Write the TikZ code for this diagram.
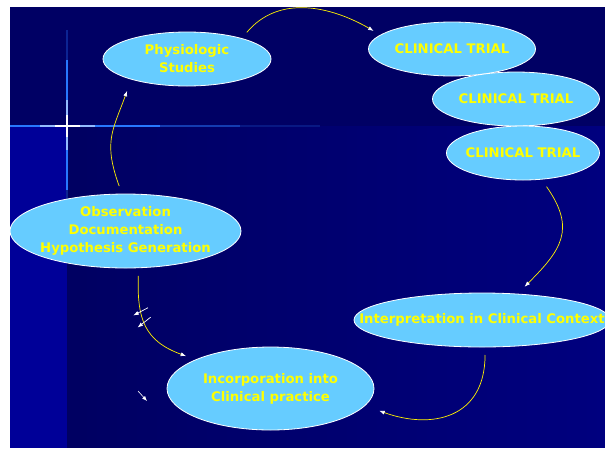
\documentclass[tikz,border=0pt]{standalone}
\usepackage{fontspec}
\setmainfont{DejaVu Sans}
\usetikzlibrary{shapes.geometric,arrows.meta,decorations.markings,positioning}
\tikzset{>=latex}
\definecolor{skyfill}{RGB}{102,204,255}
\definecolor{topnavy}{RGB}{0,0,100}
\definecolor{lownavy}{RGB}{0,0,98}
\definecolor{lowblue}{RGB}{0,0,152}
\definecolor{glowblue}{RGB}{40,120,255}
\definecolor{textyellow}{RGB}{255,255,0}
\tikzset{
	bubble/.style={ellipse, draw=white, line width=0.8pt, fill=skyfill, inner sep=0pt, outer sep=8pt},
	lbl/.style={text=textyellow, font=\fontsize{13.2}{18}\selectfont\bfseries, align=center, inner sep=0pt},
	flow/.style={draw=yellow, line width=0.7pt, -{Latex[color=white,length=5.5pt,width=4pt]}},
	breakmarks/.style={postaction={decorate}, decoration={markings,
		mark=at position 0.35 with {\draw[white, line width=0.7pt] (105:8.3pt) -- (285:8.3pt);},
		mark=at position 0.46 with {\draw[white, line width=0.7pt] (105:8.3pt) -- (285:8.3pt);}}}
}

\begin{document}
\begin{tikzpicture}[x=1pt,y=1pt]
		\useasboundingbox (0,0) rectangle (605,-448);
		\fill[white] (0,0) rectangle (605,-448);
		\fill[topnavy] (10,-7) rectangle (605,-126);
		\fill[lowblue] (10,-126) rectangle (67,-448);
		\foreach \i in {0,...,53}
			\fill[lowblue!\i!lownavy] ({67+\i*10},-126) rectangle ({77.5+\i*10},-448);
		\foreach \a/\b/\c in {10/40/glowblue, 40/55/glowblue!50!white, 55/80/white, 80/95/glowblue!50!white, 95/160/glowblue, 160/240/glowblue!50!topnavy, 240/320/glowblue!20!topnavy}
			\draw[\c, line width=1.6pt] (\a,-126) -- (\b,-126);
		\foreach \a/\b/\c in {30/60/glowblue!30!topnavy, 60/100/glowblue, 100/115/glowblue!50!white, 115/137/white, 137/150/glowblue!50!white, 150/190/glowblue, 190/215/glowblue!30!lownavy}
			\draw[\c, line width=1.6pt] (67,-\a) -- (67,-\b);

		\node[bubble, minimum width=168pt, minimum height=54pt, label={[lbl]center:{Physiologic\\Studies}}] (phys) at (187,-59) {};
		\foreach \n/\x/\y/\w in {ct1/452/49/167, ct2/516/99/167, ct3/523/153/153}
			\node[bubble, minimum width=\w pt, minimum height=54pt, label={[lbl]center:CLINICAL TRIAL}] (\n) at (\x,-\y) {};
		\node[bubble, minimum width=231pt, minimum height=74pt, label={[lbl]center:{Observation\\Documentation\\Hypothesis Generation}}] (obs) at (125.5,-231) {};
		\node[bubble, minimum width=256pt, minimum height=54pt, label={[lbl]center:Interpretation in Clinical Context}] (interp) at (482,-320) {};
		\node[bubble, minimum width=207pt, minimum height=83pt, label={[lbl]center:{Incorporation into\\Clinical practice}}] (incorp) at (270.5,-388.5) {};

		\draw[flow] (phys.24) to[out=50, in=150] (ct1.167);
		\draw[flow] (ct3.-55) to[out=-55, in=45, looseness=1.3] (interp.38);
		\draw[flow, shorten >=7pt] (interp.-85) to[out=-90, in=-20, looseness=1.3] (incorp.-11);
		\draw[flow, breakmarks] (obs.-74) to[out=-92, in=160, looseness=1.2] (incorp.159);
		\draw[flow, shorten >=5pt] (obs.98) to[out=110, in=-110, looseness=1.2] (phys.205);
		\coordinate (strayA) at (138,-391);
		\coordinate (strayB) at (147,-401);
		\draw[white, line width=0.6pt, -{Latex[length=5pt,width=4pt]}] (strayA) -- (strayB);
	\end{tikzpicture}
\end{document}
